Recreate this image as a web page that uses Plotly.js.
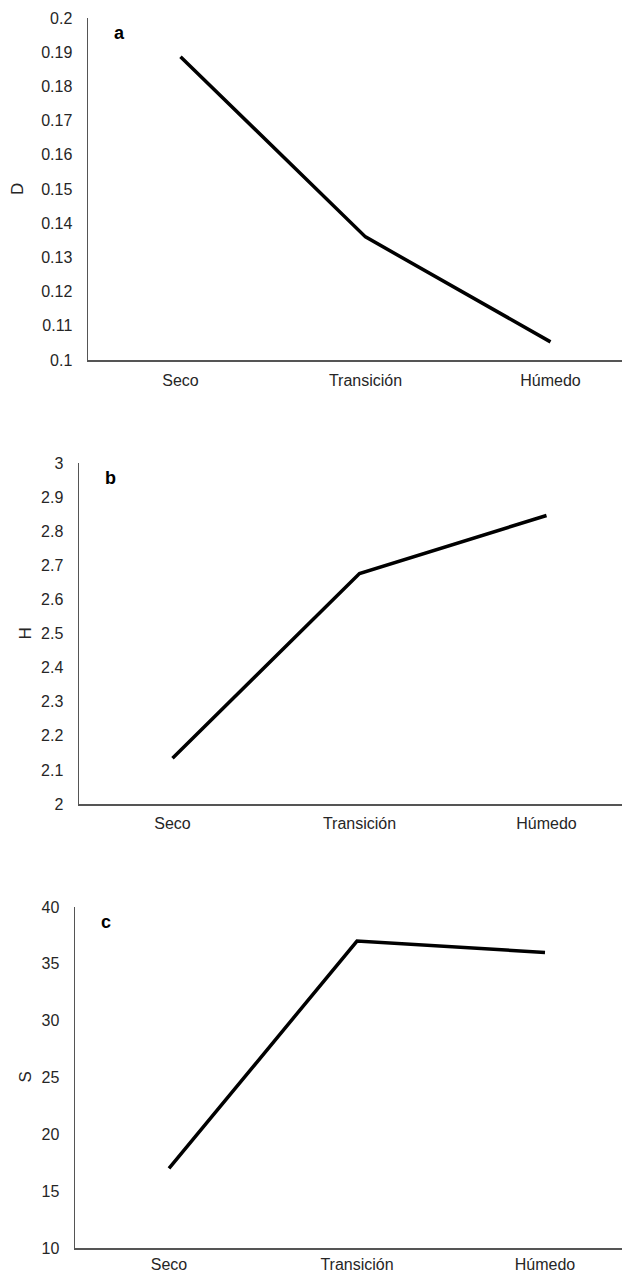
<!DOCTYPE html>
<html>
<head>
<meta charset="utf-8">
<script src="https://cdn.plot.ly/plotly-3.0.1.min.js"></script>
<style>html,body{margin:0;padding:0;background:#fff;}#chart{width:622px;height:1274px;}</style>
</head>
<body>
<div id="chart"></div>
<script>
const categories = ["Seco", "Transición", "Húmedo"];
const valuesD = [0.1887, 0.136, 0.1053];
const valuesH = [2.134, 2.676, 2.846];
const valuesS = [17.0, 37.0, 36.0];
const panelLetters = ["a", "b", "c"];
const yTitles = ["D", "H", "S"];

const W = 622, H = 1274;
const tickFont = {family: "Liberation Sans, Arial, sans-serif", size: 16, color: "#262626"};
const lineStyle = {color: "#000", width: 3.5};

function fy(px){ return 1 - px / H; }

const panels = [
  {vals: valuesD, left: 88, top: 18, bottom: 360, yr: [0.1, 0.2], dt: 0.01, spacing: 185, titleX: 17, xlen: 5},
  {vals: valuesH, left: 79, top: 463, bottom: 804, yr: [2, 3], dt: 0.1, spacing: 187, titleX: 25, xlen: 4},
  {vals: valuesS, left: 75, top: 907, bottom: 1248, yr: [10, 40], dt: 5, spacing: 188, titleX: 25, xlen: 1}
];

const data = [];
const layout = {
  width: W, height: H,
  margin: {l: 0, r: 0, t: 0, b: 0},
  paper_bgcolor: "#fff", plot_bgcolor: "#fff",
  showlegend: false,
  annotations: []
};

panels.forEach((p, i) => {
  const xa = i === 0 ? "x" : "x" + (i + 1);
  const ya = i === 0 ? "y" : "y" + (i + 1);
  const xk = i === 0 ? "xaxis" : "xaxis" + (i + 1);
  const yk = i === 0 ? "yaxis" : "yaxis" + (i + 1);
  data.push({
    type: "scatter", mode: "lines",
    x: categories, y: p.vals,
    xaxis: xa, yaxis: ya,
    line: lineStyle, hoverinfo: "skip"
  });
  const xmax = (W - p.left) / p.spacing - 0.5;
  layout[xk] = {
    domain: [p.left / W, 1],
    anchor: ya,
    type: "category",
    range: [-0.5, xmax],
    showline: true, linecolor: "#555", linewidth: 1.5,
    showgrid: false, zeroline: false,
    ticks: "outside", ticklen: p.xlen, tickcolor: "rgba(0,0,0,0)",
    tickfont: tickFont, fixedrange: true
  };
  layout[yk] = {
    domain: [fy(p.bottom), fy(p.top)],
    anchor: xa,
    range: p.yr,
    dtick: p.dt, tick0: p.yr[0],
    showline: true, linecolor: "#555", linewidth: 1.5,
    showgrid: false, zeroline: false,
    ticks: "outside", ticklen: 11, tickcolor: "rgba(0,0,0,0)",
    tickfont: tickFont, fixedrange: true
  };
  layout.annotations.push({
    xref: "paper", yref: "paper",
    x: p.titleX / W, y: fy((p.top + p.bottom) / 2),
    text: yTitles[i], textangle: -90, showarrow: false,
    xanchor: "center", yanchor: "middle",
    font: {family: "Liberation Sans, Arial, sans-serif", size: 17, color: "#262626"}
  });
  layout.annotations.push({
    xref: "paper", yref: "paper",
    x: (p.left + 24) / W, y: fy(p.top + 15),
    text: "<b>" + panelLetters[i] + "</b>", showarrow: false,
    xanchor: "left", yanchor: "middle",
    font: {family: "Liberation Sans, Arial, sans-serif", size: 18, color: "#000"}
  });
});

Plotly.newPlot("chart", data, layout, {displayModeBar: false, staticPlot: true});
</script>
</body>
</html>
